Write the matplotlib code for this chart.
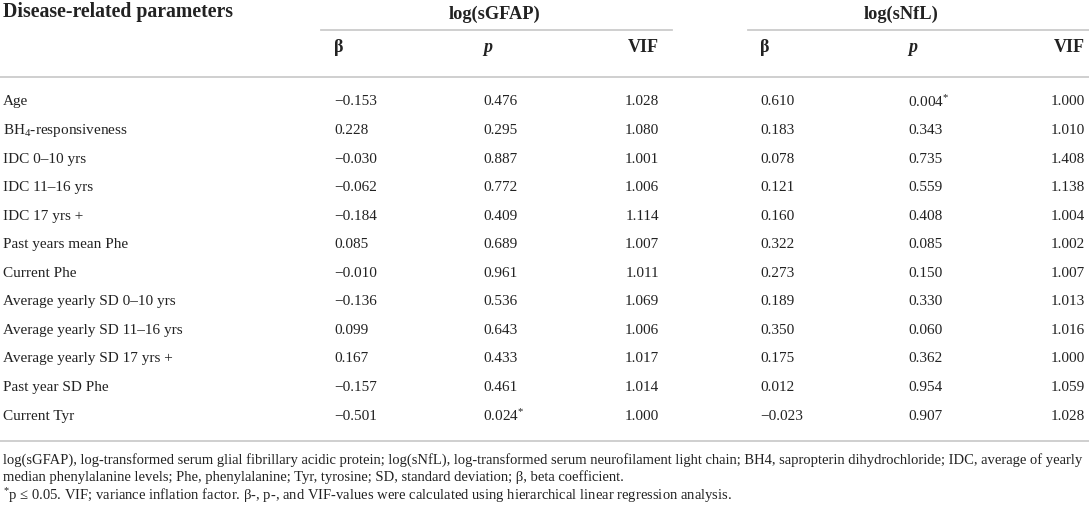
import matplotlib.pyplot as plt
from matplotlib.lines import Line2D

plt.rcParams["font.family"] = ["Liberation Serif", "DejaVu Serif"]
plt.rcParams["mathtext.fontset"] = "custom"
plt.rcParams["mathtext.rm"] = "Liberation Serif"
plt.rcParams["mathtext.it"] = "Liberation Serif:italic"
plt.rcParams["mathtext.bf"] = "Liberation Serif:bold"

params = ["Age", "BH$_4$-responsiveness", "IDC 0\u201310 yrs", "IDC 11\u201316 yrs",
          "IDC 17 yrs +", "Past years mean Phe", "Current Phe",
          "Average yearly SD 0\u201310 yrs", "Average yearly SD 11\u201316 yrs",
          "Average yearly SD 17 yrs +", "Past year SD Phe", "Current Tyr"]
gfap_beta = ["\u22120.153", "0.228", "\u22120.030", "\u22120.062", "\u22120.184", "0.085",
             "\u22120.010", "\u22120.136", "0.099", "0.167", "\u22120.157", "\u22120.501"]
gfap_p = ["0.476", "0.295", "0.887", "0.772", "0.409", "0.689",
          "0.961", "0.536", "0.643", "0.433", "0.461", "0.024$^{*}$"]
gfap_vif = ["1.028", "1.080", "1.001", "1.006", "1.114", "1.007",
            "1.011", "1.069", "1.006", "1.017", "1.014", "1.000"]
nfl_beta = ["0.610", "0.183", "0.078", "0.121", "0.160", "0.322",
            "0.273", "0.189", "0.350", "0.175", "0.012", "\u22120.023"]
nfl_p = ["0.004$^{*}$", "0.343", "0.735", "0.559", "0.408", "0.085",
         "0.150", "0.330", "0.060", "0.362", "0.954", "0.907"]
nfl_vif = ["1.000", "1.010", "1.408", "1.138", "1.004", "1.002",
           "1.007", "1.013", "1.016", "1.000", "1.059", "1.028"]

footnotes = [
    "log(sGFAP), log-transformed serum glial fibrillary acidic protein; log(sNfL), log-transformed serum neurofilament light chain; BH4, sapropterin dihydrochloride; IDC, average of yearly",
    "median phenylalanine levels; Phe, phenylalanine; Tyr, tyrosine; SD, standard deviation; \u03b2, beta coefficient.",
    "$^{*}$p \u2264 0.05. VIF; variance inflation factor. \u03b2-, p-, and VIF-values were calculated using hierarchical linear regression analysis.",
]

W, H = 1089, 510
fig = plt.figure(figsize=(W / 100, H / 100), dpi=100)
fig.patch.set_facecolor("white")
TXT = "#222222"
LINE = "#cccccc"


def px(x, y):
    return x / W, 1 - y / H


def put(x, y, s, **kw):
    kw.setdefault("color", TXT)
    kw.setdefault("fontsize", 11)
    kw.setdefault("va", "center")
    fig.text(*px(x, y), s, **kw)


def hline(x0, x1, y, lw=1.3):
    fig.add_artist(Line2D([x0 / W, x1 / W], [1 - y / H, 1 - y / H],
                          color=LINE, lw=lw, transform=fig.transFigure))


# header
put(3, 12, "Disease-related parameters", fontsize=14.2, fontweight="bold")
put(494, 14, "log(sGFAP)", fontsize=13.2, fontweight="bold", ha="center")
put(901, 14, "log(sNfL)", fontsize=13.2, fontweight="bold", ha="center")
hline(321, 672, 31)
hline(748, 1089, 31)

# (x, alignment) per column
cols_pos = [(334, "left"), (483, "left"), (659, "right"),
            (760, "left"), (908, "left"), (1085, "right")]
sub = ["\u03b2", "p", "VIF", "\u03b2", "p", "VIF"]
for (x, ha), s in zip(cols_pos, sub):
    put(x, 48, s, fontsize=13, fontweight="bold", ha=ha,
        style="italic" if s == "p" else "normal")
hline(0, 1089, 78)

# body
cols = [gfap_beta, gfap_p, gfap_vif, nfl_beta, nfl_p, nfl_vif]
row_y0, row_dy = 102, 28.55
for i, name in enumerate(params):
    y = row_y0 + i * row_dy
    put(3, y, name)
    for (x, ha), col in zip(cols_pos, cols):
        put(x, y, col[i], ha=ha)
hline(0, 1089, 442)

for j, line in enumerate(footnotes):
    put(3, 460 + j * 17.6, line, fontsize=10.5)

fig.savefig("out.png", dpi=100, facecolor="white")
